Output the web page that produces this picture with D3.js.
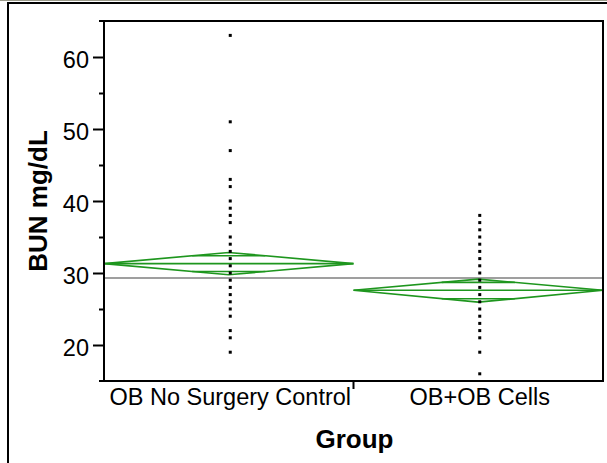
<!DOCTYPE html>
<html>
<head>
<meta charset="utf-8">
<script src="https://cdn.jsdelivr.net/npm/d3@7"></script>
<style>
  html, body { margin: 0; padding: 0; background: #fff; }
  svg { display: block; }
  text { font-family: "Liberation Sans", Arial, sans-serif; fill: #000; }
</style>
</head>
<body>
<svg id="chart" width="607" height="463"></svg>
<script>
// ---- data ----
const groups = ["OB No Surgery Control", "OB+OB Cells"];
const group1Values = [63, 51, 47, 43, 42, 40, 39, 38, 37, 35, 34, 33, 32, 31, 30, 29, 28, 27, 26, 25, 24, 22, 21, 19];
const group2Values = [38, 37, 36, 35, 34, 33, 32, 31, 30, 29, 28, 27, 26, 25, 24, 23, 22, 21, 19, 16];
const groupMeans = [31.3, 27.6];
const ciLower = [29.75, 25.95];
const ciUpper = [32.85, 29.15];
const grandMean = 29.3;
const yMajorTicks = [20, 30, 40, 50, 60];
const yMinorTicks = [25, 35, 45, 55];
const yDomain = [15, 65];
const yTitle = "BUN mg/dL";
const xTitle = "Group";

// ---- layout ----
const W = 607, H = 463;
const plot = { left: 104, right: 603, top: 21, bottom: 381 };
const green = "#1e961e";
const font = 23.5;

const svg = d3.select("#chart");

// outer frame
svg.append("line").attr("x1", 0).attr("x2", W).attr("y1", 0.5).attr("y2", 0.5)
  .attr("stroke", "#9a9a8a").attr("stroke-width", 1);
svg.append("line").attr("x1", 7).attr("x2", W).attr("y1", 3).attr("y2", 3)
  .attr("stroke", "#000").attr("stroke-width", 2);
svg.append("line").attr("x1", 8).attr("x2", 8).attr("y1", 2).attr("y2", H)
  .attr("stroke", "#000").attr("stroke-width", 2);

const y = d3.scaleLinear().domain(yDomain).range([plot.bottom, plot.top]);
const x = d3.scaleBand().domain(groups).range([plot.left, plot.right]);
const xOff = 1.5;

// grand mean line
svg.append("line")
  .attr("x1", plot.left).attr("x2", plot.right)
  .attr("y1", y(grandMean)).attr("y2", y(grandMean))
  .attr("stroke", "#7f7f7f").attr("stroke-width", 1.6);

// means diamonds
const bw = x.bandwidth();
groups.forEach((g, i) => {
  const x0 = x(g), x1 = x(g) + bw, xc = x(g) + bw / 2;
  const m = y(groupMeans[i]), hi = y(ciUpper[i]), lo = y(ciLower[i]);
  const gD = svg.append("g").attr("stroke", green).attr("stroke-width", 1.6).attr("fill", "none");
  gD.append("path")
    .attr("d", `M${x0},${m}L${xc},${hi}L${x1},${m}L${xc},${lo}Z`);
  gD.append("line").attr("x1", x0).attr("x2", x1).attr("y1", m).attr("y2", m);
  // overlap marks
  const k = 1 / Math.SQRT2;
  const d = (1 - k) * bw / 2;
  const yo1 = y(groupMeans[i] + (ciUpper[i] - groupMeans[i]) * k);
  const yo2 = y(groupMeans[i] - (groupMeans[i] - ciLower[i]) * k);
  gD.append("line").attr("x1", xc - d).attr("x2", xc + d).attr("y1", yo1).attr("y2", yo1);
  gD.append("line").attr("x1", xc - d).attr("x2", xc + d).attr("y1", yo2).attr("y2", yo2);
});

// points
const pts = [];
group1Values.forEach(v => pts.push({ g: groups[0], v }));
group2Values.forEach(v => pts.push({ g: groups[1], v }));
svg.append("g").selectAll("rect").data(pts).join("rect")
  .attr("x", d => x(d.g) + bw / 2 + xOff - 1.5)
  .attr("y", d => y(d.v) - 1.5)
  .attr("width", 3).attr("height", 3)
  .attr("fill", "#000");

// y axis
const yMajor = svg.append("g").attr("transform", `translate(${plot.left},0)`)
  .call(d3.axisLeft(y).tickValues(yMajorTicks).tickSize(11).tickPadding(4).tickFormat(d3.format("d")));
yMajor.select(".domain").remove();
yMajor.selectAll(".tick line").attr("stroke", "#000").attr("stroke-width", 2);
yMajor.selectAll(".tick text").attr("font-size", font).attr("dy", "0.43em")
  .attr("font-family", "Liberation Sans, Arial, sans-serif").attr("fill", "#000");

const yMinor = svg.append("g").attr("transform", `translate(${plot.left},0)`)
  .call(d3.axisLeft(y).tickValues(yMinorTicks).tickSize(5).tickFormat(""));
yMinor.select(".domain").remove();
yMinor.selectAll(".tick line").attr("stroke", "#000").attr("stroke-width", 2);

// x axis
const xAxis = svg.append("g").attr("transform", `translate(0,${plot.bottom})`)
  .call(d3.axisBottom(x).tickSize(0).tickPadding(7.3));
xAxis.select(".domain").remove();
xAxis.selectAll(".tick text").attr("font-size", font).attr("dx", xOff)
  .attr("font-family", "Liberation Sans, Arial, sans-serif").attr("fill", "#000");

// group separator tick
groups.slice(1).forEach(g => {
  svg.append("line").attr("x1", x(g)).attr("x2", x(g))
    .attr("y1", plot.bottom).attr("y2", plot.bottom + 8)
    .attr("stroke", "#000").attr("stroke-width", 2);
});

// plot frame
const frame = svg.append("g").attr("stroke", "#000").attr("stroke-width", 2).attr("fill", "none");
frame.append("line").attr("x1", plot.left - 5).attr("x2", plot.right + 1).attr("y1", plot.top).attr("y2", plot.top);
frame.append("line").attr("x1", plot.left - 5).attr("x2", plot.right + 1).attr("y1", plot.bottom).attr("y2", plot.bottom);
frame.append("line").attr("x1", plot.left).attr("x2", plot.left).attr("y1", plot.top).attr("y2", plot.bottom);
frame.append("line").attr("x1", plot.right).attr("x2", plot.right).attr("y1", plot.top).attr("y2", plot.bottom);

// titles
svg.append("text")
  .attr("transform", `translate(46.5,${(plot.top + plot.bottom) / 2 + 0}) rotate(-90)`)
  .attr("text-anchor", "middle").attr("font-weight", "bold").attr("font-size", 26)
  .text(yTitle);
svg.append("text")
  .attr("x", (plot.left + plot.right) / 2 + 1).attr("y", 448)
  .attr("text-anchor", "middle").attr("font-weight", "bold").attr("font-size", 26)
  .text(xTitle);
</script>
</body>
</html>
